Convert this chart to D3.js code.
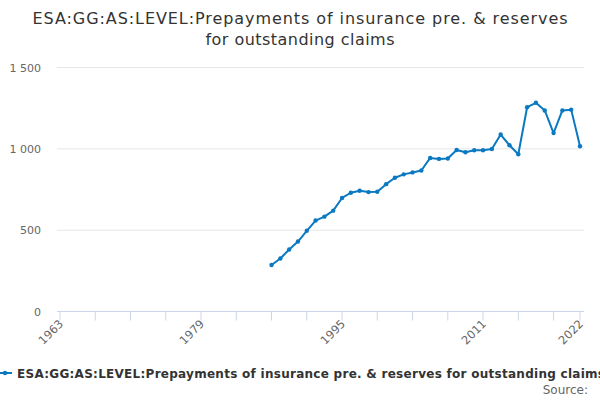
<!DOCTYPE html>
<html>
<head>
<meta charset="utf-8">
<script src="https://cdn.jsdelivr.net/npm/d3@7"></script>
<style>
  body { margin: 0; background: #fff; }
  svg { font-family: "DejaVu Sans", sans-serif; display: block; }
</style>
</head>
<body>
<div id="chart"></div>
<script>
const seriesName = 'ESA:GG:AS:LEVEL:Prepayments of insurance pre. & reserves for outstanding claims';
const titleLines = ['ESA:GG:AS:LEVEL:Prepayments of insurance pre. & reserves', 'for outstanding claims'];

const years = [1987, 1988, 1989, 1990, 1991, 1992, 1993, 1994, 1995, 1996,
  1997, 1998, 1999, 2000, 2001, 2002, 2003, 2004, 2005, 2006,
  2007, 2008, 2009, 2010, 2011, 2012, 2013, 2014, 2015, 2016,
  2017, 2018, 2019, 2020, 2021, 2022];
const values = [286, 326, 381, 430, 496, 559, 583, 620, 698, 730,
  742, 734, 736, 783, 822, 843, 855, 867, 944, 938,
  941, 993, 979, 991, 991, 999, 1088, 1022, 967, 1256,
  1283, 1236, 1097, 1236, 1241, 1016];

const yTicks = [0, 500, 1000, 1500];
const xTickMarks = [1963, 1967, 1971, 1975, 1979, 1983, 1987, 1991, 1995, 1999, 2003, 2007, 2011, 2015, 2019, 2022];
const xLabels = [1963, 1979, 1995, 2011, 2022];

const data = years.map((y, i) => ({year: y, value: values[i]}));

const width = 600, height = 400;
const color = '#0b79c1';

const svg = d3.select('#chart').append('svg')
  .attr('width', width)
  .attr('height', height);

const x = d3.scaleLinear().domain([1963, 2022]).range([60, 580]);
const y = d3.scaleLinear().domain([0, 1500]).range([311.5, 67.5]);

// title (widths matched to the reference)
const titleWidths = [535, 189];
svg.append('text')
  .attr('x', width / 2)
  .attr('y', 24)
  .attr('text-anchor', 'middle')
  .attr('font-size', 16)
  .attr('fill', '#333')
  .selectAll('tspan')
  .data(titleLines)
  .join('tspan')
    .attr('x', width / 2)
    .attr('dy', (d, i) => i ? 21 : 0)
    .attr('textLength', (d, i) => titleWidths[i])
    .attr('lengthAdjust', 'spacing')
    .text(d => d);

// grid lines
svg.append('g').selectAll('line')
  .data(yTicks.filter(d => d > 0))
  .join('line')
    .attr('x1', 57).attr('x2', 584)
    .attr('y1', d => y(d)).attr('y2', d => y(d))
    .attr('stroke', '#e6e6e6');

// y labels
svg.append('g').selectAll('text')
  .data(yTicks)
  .join('text')
    .attr('x', 41)
    .attr('y', d => y(d) + 4)
    .attr('text-anchor', 'end')
    .attr('font-size', 11)
    .attr('fill', '#666')
    .text(d => d3.format(',')(d).replace(',', ' '));

// x axis
const xAxis = svg.append('g');
xAxis.append('line')
  .attr('x1', 57).attr('x2', 584)
  .attr('y1', y(0)).attr('y2', y(0))
  .attr('stroke', '#ccd6eb');
xAxis.selectAll('line.tick')
  .data(xTickMarks)
  .join('line')
    .attr('class', 'tick')
    .attr('x1', d => x(d)).attr('x2', d => x(d))
    .attr('y1', y(0)).attr('y2', y(0) + 9)
    .attr('stroke', '#ccd6eb');
xAxis.selectAll('text')
  .data(xLabels)
  .join('text')
    .attr('transform', d => `translate(${x(d) + 4}, ${y(0) + 13}) rotate(-45)`)
    .attr('text-anchor', 'end')
    .attr('font-size', 11.5)
    .attr('fill', '#666')
    .text(d => d);

// series
const line = d3.line()
  .x(d => x(d.year))
  .y(d => y(d.value));

svg.append('path')
  .datum(data)
  .attr('d', line)
  .attr('fill', 'none')
  .attr('stroke', color)
  .attr('stroke-width', 2)
  .attr('stroke-linejoin', 'round');

svg.append('g').selectAll('circle')
  .data(data)
  .join('circle')
    .attr('cx', d => x(d.year))
    .attr('cy', d => y(d.value))
    .attr('r', 2.2)
    .attr('fill', color);

// legend (runs off the right edge, as in the reference)
const legend = svg.append('g');
legend.append('line')
  .attr('x1', -2).attr('x2', 12)
  .attr('y1', 373).attr('y2', 373)
  .attr('stroke', color)
  .attr('stroke-width', 2);
legend.append('circle')
  .attr('cx', 5).attr('cy', 373).attr('r', 2.2)
  .attr('fill', color);
legend.append('text')
  .attr('x', 17)
  .attr('y', 377.5)
  .attr('font-size', 12)
  .attr('font-weight', 'bold')
  .attr('fill', '#333')
  .attr('textLength', 588)
  .attr('lengthAdjust', 'spacing')
  .text(seriesName);

// credits
svg.append('text')
  .attr('x', 588)
  .attr('y', 394)
  .attr('text-anchor', 'end')
  .attr('font-size', 12)
  .attr('fill', '#666')
  .text('Source:');
</script>
</body>
</html>
